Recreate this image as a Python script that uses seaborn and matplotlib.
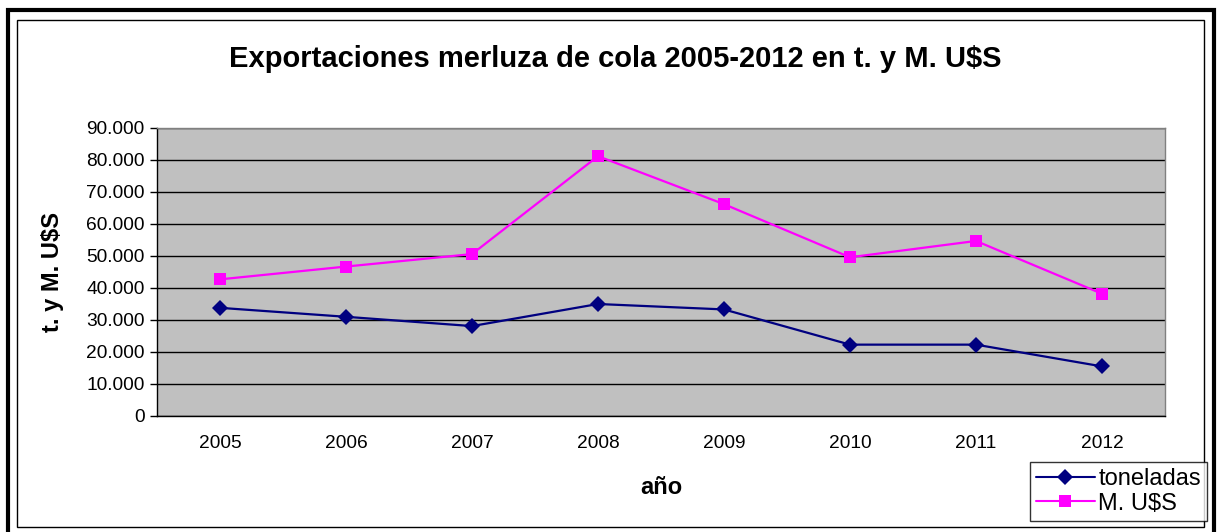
import matplotlib
matplotlib.use("Agg")
import matplotlib.pyplot as plt
from matplotlib.patches import Rectangle
from matplotlib.lines import Line2D
from matplotlib.ticker import FuncFormatter, FixedLocator
import pandas as pd
import seaborn as sns

years = ["2005", "2006", "2007", "2008", "2009", "2010", "2011", "2012"]
toneladas = [33800, 31000, 28100, 35000, 33300, 22300, 22300, 15500]
musd = [42700, 46700, 50600, 81200, 66200, 49600, 54700, 38200]

df = pd.DataFrame({
    "pos": list(range(len(years))) * 2,
    "valor": toneladas + musd,
    "serie": ["toneladas"] * len(years) + ["M. U$S"] * len(years),
})

sns.set_style("white", {"text.color": "black", "axes.labelcolor": "black",
                        "xtick.color": "black", "ytick.color": "black"})
plt.rcParams["font.family"] = ["Liberation Sans", "DejaVu Sans"]

W, H = 1217, 532
fig = plt.figure(figsize=(W / 100, H / 100), dpi=100)
ax = fig.add_axes([157 / W, 1 - 416 / H, (1165 - 157) / W, (416 - 128) / H])
ax.set_facecolor("#C0C0C0")

colors = {"toneladas": "#000080", "M. U$S": "#FF00FF"}
sns.lineplot(data=df, x="pos", y="valor", hue="serie", style="serie",
             palette=colors, markers=["D", "s"], dashes=False,
             markersize=8, markeredgewidth=0, linewidth=1.6,
             legend=False, ax=ax, zorder=3)

ax.set_xlim(-0.5, len(years) - 0.5)
ax.set_ylim(0, 90000)
ax.set_yticks(range(0, 90001, 10000))
ax.yaxis.set_major_formatter(FuncFormatter(lambda v, p: f"{int(v):,}".replace(",", ".")))
ax.set_xticks(range(len(years)))
ax.set_xticklabels(years)
ax.xaxis.set_minor_locator(FixedLocator([i - 0.5 for i in range(len(years) + 1)]))
ax.tick_params(axis="x", which="major", length=0, pad=13.5, labelsize=13.8, labelcolor="black")
ax.tick_params(axis="x", which="minor", length=5, width=1, color="black", direction="out")
ax.tick_params(axis="y", length=5, width=1, color="black", direction="out", pad=4, labelsize=13.8,
               left=True, labelcolor="black")
ax.grid(axis="y", color="black", linewidth=1)
ax.set_axisbelow(True)
for side in ["top", "right"]:
    ax.spines[side].set_color("#808080")
for side in ["left", "bottom"]:
    ax.spines[side].set_color("black")
for s in ax.spines.values():
    s.set_linewidth(1)

ax.set_xlabel("año", fontsize=17, fontweight="bold", color="black")
ax.xaxis.set_label_coords(0.5, (416 - 487) / 288)
ax.xaxis.label.set_va("center")
ax.set_ylabel("t. y M. U$S", fontsize=17, fontweight="bold", color="black")
ax.yaxis.set_label_coords((52 - 157) / 1008, 0.5)
ax.yaxis.label.set_va("center")
fig.text(615 / W, 1 - 67 / H, "Exportaciones merluza de cola 2005-2012 en t. y M. U$S",
         ha="center", va="baseline", fontsize=21, fontweight="bold", color="black")

# marcos del gráfico
fig.patches.append(Rectangle((8 / W, -0.05), (1214 - 8) / W, 1 - 10 / H + 0.05,
                             transform=fig.transFigure, fill=False, edgecolor="black", linewidth=3))
fig.patches.append(Rectangle((17 / W, 1 - 527 / H), (1204 - 17) / W, (527 - 20) / H,
                             transform=fig.transFigure, fill=False, edgecolor="black", linewidth=1))

handles = [Line2D([], [], color=colors["toneladas"], marker="D", markersize=8, markeredgewidth=0, linewidth=1.5),
           Line2D([], [], color=colors["M. U$S"], marker="s", markersize=8, markeredgewidth=0, linewidth=1.5)]
leg = fig.legend(handles, ["toneladas", "M. U$S"], loc="upper left",
                 bbox_to_anchor=(1030 / W, 1 - 462 / H), fontsize=17, frameon=True,
                 fancybox=False, edgecolor="black", borderpad=0.25, handlelength=2.5,
                 handletextpad=0.15, labelspacing=0.12, borderaxespad=0, labelcolor="black")
leg.get_frame().set_linewidth(1)

fig.savefig("out.png", dpi=100, facecolor="white")
